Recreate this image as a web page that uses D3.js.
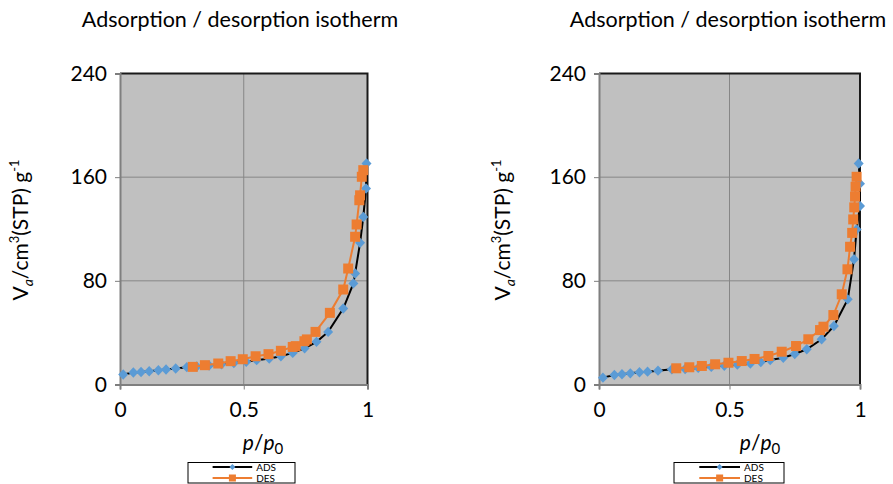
<!DOCTYPE html>
<html>
<head>
<meta charset="utf-8">
<script src="https://cdn.jsdelivr.net/npm/d3@7"></script>
<style>
  body { margin: 0; background: #fff; }
  svg text { font-family: Lato, "Open Sans", sans-serif; fill: #000; }
</style>
</head>
<body>
<svg id="chart" width="893" height="484"></svg>
<script>
// left panel
const adsP1 = [0.013, 0.054, 0.085, 0.118, 0.155, 0.186, 0.225, 0.27, 0.31, 0.36, 0.41, 0.46, 0.51, 0.552, 0.603, 0.65, 0.698, 0.746, 0.794, 0.841, 0.902, 0.943, 0.95, 0.97, 0.983, 0.994, 0.996];
const adsV1 = [7.7, 9.3, 9.7, 10.2, 11, 11.6, 12.3, 13.4, 13.9, 14.7, 15.6, 16.5, 17.6, 18.8, 20, 21.8, 24.4, 28, 32.9, 40.6, 58.6, 78, 85.7, 109.3, 129.3, 151.2, 170.5];
const desP1 = [0.983, 0.977, 0.97, 0.967, 0.956, 0.95, 0.922, 0.902, 0.848, 0.79, 0.755, 0.745, 0.71, 0.698, 0.65, 0.6, 0.548, 0.496, 0.447, 0.397, 0.343, 0.294];
const desV1 = [165.4, 160.3, 146, 142.2, 123.5, 114, 89.5, 73.3, 55.3, 40.6, 34.8, 33.4, 29.6, 29, 26, 23.4, 21.8, 19.5, 18, 16.2, 14.9, 13.6];

// right panel
const adsP2 = [0.015, 0.059, 0.088, 0.12, 0.155, 0.186, 0.226, 0.279, 0.33, 0.38, 0.43, 0.48, 0.53, 0.58, 0.62, 0.656, 0.706, 0.75, 0.796, 0.853, 0.9, 0.953, 0.977, 0.987, 1.0, 1.0, 0.995];
const adsV2 = [5.3, 7.3, 7.9, 8.6, 9.4, 9.9, 10.7, 11.7, 12.0, 12.8, 13.6, 14.5, 15.3, 16.2, 17.3, 18.9, 20.7, 23.5, 27.2, 34.9, 45.1, 65.7, 96.6, 119.7, 137.7, 155, 170.6];
const desP2 = [0.987, 0.983, 0.981, 0.978, 0.974, 0.97, 0.962, 0.952, 0.93, 0.898, 0.86, 0.847, 0.802, 0.755, 0.70, 0.649, 0.596, 0.547, 0.496, 0.445, 0.394, 0.346, 0.296];
const desV2 = [160.3, 152.6, 145, 136.7, 127.4, 117, 106.3, 88.9, 69.6, 53.6, 44.6, 42, 34.9, 29.7, 25.3, 22, 19.7, 18.1, 16.8, 15.6, 14.3, 13.3, 12.5];

const xTicks = [0, 0.5, 1];
const yTicks = [0, 80, 160, 240];
const seriesNames = ["ADS", "DES"];
const titleText = "Adsorption / desorption isotherm";

const blue = "#5B9BD5";
const orange = "#ED7D31";

const svg = d3.select("#chart");

const panels = [
  { left: 120, right: 367.5, titleX: 240, yLabelX: 28, xLabelX: 263, legend: { x: 188, w: 107 },
    ads: d3.zip(adsP1, adsV1), des: d3.zip(desP1, desV1) },
  { left: 599, right: 860, titleX: 728, yLabelX: 510, xLabelX: 760, legend: { x: 674, w: 110 },
    ads: d3.zip(adsP2, adsV2), des: d3.zip(desP2, desV2) }
];

const plotTop = 73.5, plotBottom = 384.5;

const diamond = "M0,-5.2L5,0L0,5.2L-5,0Z";

panels.forEach(p => {
  const x = d3.scaleLinear([0, 1], [p.left, p.right]);
  const y = d3.scaleLinear([0, 240], [plotBottom, plotTop]);
  const g = svg.append("g");

  // title
  g.append("text")
    .attr("x", p.titleX).attr("y", 27)
    .attr("text-anchor", "middle")
    .style("font-size", "21.5px")
    .text(titleText);

  // plot area
  g.append("rect")
    .attr("x", x(0)).attr("y", y(240))
    .attr("width", x(1) - x(0)).attr("height", y(0) - y(240))
    .attr("fill", "#c0c0c0");

  // gridlines
  g.selectAll(".vgrid").data([0.5]).enter().append("line")
    .attr("x1", d => x(d)).attr("x2", d => x(d))
    .attr("y1", y(0)).attr("y2", y(240))
    .attr("stroke", "#868686").attr("stroke-width", 1);
  g.selectAll(".hgrid").data([80, 160]).enter().append("line")
    .attr("x1", x(0)).attr("x2", x(1))
    .attr("y1", d => y(d)).attr("y2", d => y(d))
    .attr("stroke", "#868686").attr("stroke-width", 1);

  // border (top/right dark)
  g.append("path")
    .attr("d", `M${x(0)},${y(240)}H${x(1)}V${y(0)}`)
    .attr("fill", "none").attr("stroke", "#1a1a1a").attr("stroke-width", 2);

  // axes
  const xAxis = g.append("g")
    .attr("transform", `translate(0,${y(0)})`)
    .call(d3.axisBottom(x).tickValues(xTicks).tickFormat(d3.format("")).tickSize(5).tickPadding(12));
  const yAxis = g.append("g")
    .attr("transform", `translate(${x(0)},0)`)
    .call(d3.axisLeft(y).tickValues(yTicks).tickSize(5).tickPadding(8));
  [xAxis, yAxis].forEach(a => {
    a.select(".domain").attr("stroke", "#7f7f7f").attr("stroke-width", 2);
    a.selectAll(".tick line").attr("stroke", "#7f7f7f");
    a.selectAll(".tick text").style("font-size", "21px").style("font-family", "Lato, sans-serif").attr("fill", "#000");
  });
  xAxis.selectAll(".tick text").attr("dy", "0.75em");

  // series
  const line = d3.line().x(d => x(d[0])).y(d => y(d[1]));
  g.append("path").datum(p.ads)
    .attr("d", line).attr("fill", "none")
    .attr("stroke", "#000").attr("stroke-width", 2);
  g.selectAll(".ads").data(p.ads).enter().append("path")
    .attr("transform", d => `translate(${x(d[0])},${y(d[1])})`)
    .attr("d", diamond).attr("fill", blue);

  g.append("path").datum(p.des)
    .attr("d", line).attr("fill", "none")
    .attr("stroke", orange).attr("stroke-width", 2);
  g.selectAll(".des").data(p.des).enter().append("rect")
    .attr("x", d => x(d[0]) - 5).attr("y", d => y(d[1]) - 5)
    .attr("width", 10).attr("height", 10)
    .attr("fill", orange);

  // y label
  const yl = g.append("text")
    .attr("transform", `translate(${p.yLabelX},230) rotate(-90)`)
    .attr("text-anchor", "middle")
    .style("font-size", "21px");
  yl.append("tspan").text("V");
  yl.append("tspan").attr("font-style", "italic").attr("font-size", "14px").attr("dy", 5).text("a");
  yl.append("tspan").attr("dy", -5).text("/cm");
  yl.append("tspan").attr("font-size", "13px").attr("dy", -9).text("3");
  yl.append("tspan").attr("dy", 9).text("(STP) g");
  yl.append("tspan").attr("font-size", "13px").attr("dy", -9).text("-1");

  // x label
  const xl = g.append("text")
    .attr("x", p.xLabelX).attr("y", 450)
    .attr("text-anchor", "middle")
    .style("font-size", "21px");
  xl.append("tspan").attr("font-style", "italic").text("p");
  xl.append("tspan").text("/");
  xl.append("tspan").attr("font-style", "italic").text("p");
  xl.append("tspan").attr("font-size", "15px").attr("dy", 4).text("0");

  // legend
  const lg = g.append("g").attr("transform", `translate(${p.legend.x},462.5)`);
  lg.append("rect").attr("width", p.legend.w).attr("height", 20.5)
    .attr("fill", "#fff").attr("stroke", "#000").attr("stroke-width", 1);
  const lx0 = p.legend.w * 0.23, lx1 = p.legend.w * 0.6;
  const rows = [
    { name: seriesNames[0], color: "#000", y: 4.5 },
    { name: seriesNames[1], color: orange, y: 15.5 }
  ];
  rows.forEach((r, i) => {
    lg.append("line").attr("x1", lx0).attr("x2", lx1).attr("y1", r.y).attr("y2", r.y)
      .attr("stroke", r.color).attr("stroke-width", 2);
    const cx = (lx0 + lx1) / 2;
    if (i === 0) {
      lg.append("path").attr("transform", `translate(${cx},${r.y})`)
        .attr("d", "M0,-3L3,0L0,3L-3,0Z").attr("fill", blue);
    } else {
      lg.append("rect").attr("x", cx - 3.5).attr("y", r.y - 3.5)
        .attr("width", 7).attr("height", 7).attr("fill", orange);
    }
    lg.append("text").attr("x", lx1 + 4).attr("y", r.y + 3.5)
      .style("font-size", "10px").text(r.name);
  });
});
</script>
</body>
</html>
